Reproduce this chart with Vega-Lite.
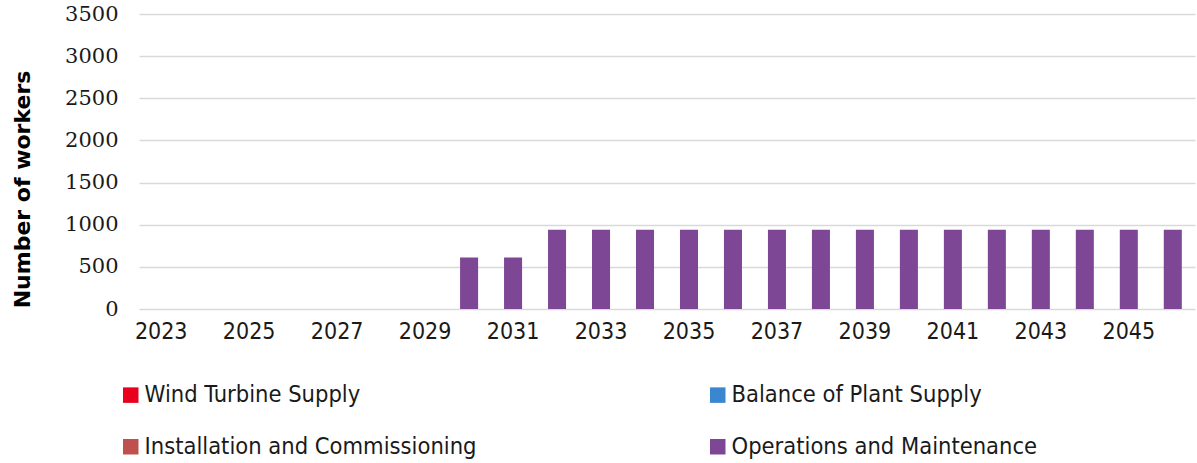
{
  "$schema": "https://vega.github.io/schema/vega-lite/v6.json",
  "autosize": {"type": "none"},
  "padding": {"left": 139, "top": 14, "right": 2, "bottom": 154},
  "width": 1056,
  "height": 295,
  "background": "white",
  "config": {"view": {"stroke": null}},
  "data": {"values": [
    {"year": 2023, "cat": "Operations and Maintenance", "workers": 0},
    {"year": 2024, "cat": "Operations and Maintenance", "workers": 0},
    {"year": 2025, "cat": "Operations and Maintenance", "workers": 0},
    {"year": 2026, "cat": "Operations and Maintenance", "workers": 0},
    {"year": 2027, "cat": "Operations and Maintenance", "workers": 0},
    {"year": 2028, "cat": "Operations and Maintenance", "workers": 0},
    {"year": 2029, "cat": "Operations and Maintenance", "workers": 0},
    {"year": 2030, "cat": "Operations and Maintenance", "workers": 612},
    {"year": 2031, "cat": "Operations and Maintenance", "workers": 612},
    {"year": 2032, "cat": "Operations and Maintenance", "workers": 940},
    {"year": 2033, "cat": "Operations and Maintenance", "workers": 940},
    {"year": 2034, "cat": "Operations and Maintenance", "workers": 940},
    {"year": 2035, "cat": "Operations and Maintenance", "workers": 940},
    {"year": 2036, "cat": "Operations and Maintenance", "workers": 940},
    {"year": 2037, "cat": "Operations and Maintenance", "workers": 940},
    {"year": 2038, "cat": "Operations and Maintenance", "workers": 940},
    {"year": 2039, "cat": "Operations and Maintenance", "workers": 940},
    {"year": 2040, "cat": "Operations and Maintenance", "workers": 940},
    {"year": 2041, "cat": "Operations and Maintenance", "workers": 940},
    {"year": 2042, "cat": "Operations and Maintenance", "workers": 940},
    {"year": 2043, "cat": "Operations and Maintenance", "workers": 940},
    {"year": 2044, "cat": "Operations and Maintenance", "workers": 940},
    {"year": 2045, "cat": "Operations and Maintenance", "workers": 940},
    {"year": 2046, "cat": "Operations and Maintenance", "workers": 940},
    {"year": 2030, "cat": "Wind Turbine Supply", "workers": 0},
    {"year": 2030, "cat": "Balance of Plant Supply", "workers": 0},
    {"year": 2030, "cat": "Installation and Commissioning", "workers": 0}
  ]},
  "mark": {"type": "bar"},
  "encoding": {
    "x": {
      "field": "year", "type": "ordinal",
      "scale": {"paddingInner": 0.59, "paddingOuter": 0.3},
      "axis": {
        "title": null,
        "values": [2023, 2025, 2027, 2029, 2031, 2033, 2035, 2037, 2039, 2041, 2043, 2045],
        "labelAngle": 0,
        "domain": false,
        "ticks": false,
        "labelFont": "DejaVu Sans Condensed",
        "labelFontSize": 23,
        "labelColor": "#1a1a1a",
        "labelPadding": 11
      }
    },
    "y": {
      "field": "workers", "type": "quantitative", "aggregate": "sum",
      "stack": "zero",
      "scale": {"domain": [0, 3500]},
      "axis": {
        "title": "Number of workers",
        "format": "d",
        "values": [0, 500, 1000, 1500, 2000, 2500, 3000, 3500],
        "domain": false,
        "ticks": false,
        "gridColor": "#d9d9d9",
        "gridWidth": 1.5,
        "labelFont": "DejaVu Serif",
        "labelFontSize": 21,
        "labelColor": "#1a1a1a",
        "labelPadding": 21,
        "titleFont": "DejaVu Sans",
        "titleFontWeight": "bold",
        "titleFontSize": 22,
        "titleColor": "#000000",
        "titlePadding": 30,
        "titleY": 175
      }
    },
    "color": {
      "field": "cat", "type": "nominal",
      "scale": {
        "domain": ["Wind Turbine Supply", "Balance of Plant Supply", "Installation and Commissioning", "Operations and Maintenance"],
        "range": ["#e8001c", "#3a87cf", "#c0504d", "#7e4795"]
      },
      "legend": {
        "title": null,
        "orient": "none",
        "legendX": -20,
        "legendY": 369,
        "direction": "horizontal",
        "columns": 2,
        "columnPadding": 229,
        "rowPadding": 27,
        "symbolType": "square",
        "symbolSize": 240,
        "symbolStrokeWidth": 0,
        "labelFont": "DejaVu Sans Condensed",
        "labelFontSize": 23.5,
        "labelColor": "#1a1a1a",
        "labelOffset": 2,
        "labelLimit": 0
      }
    }
  }
}
